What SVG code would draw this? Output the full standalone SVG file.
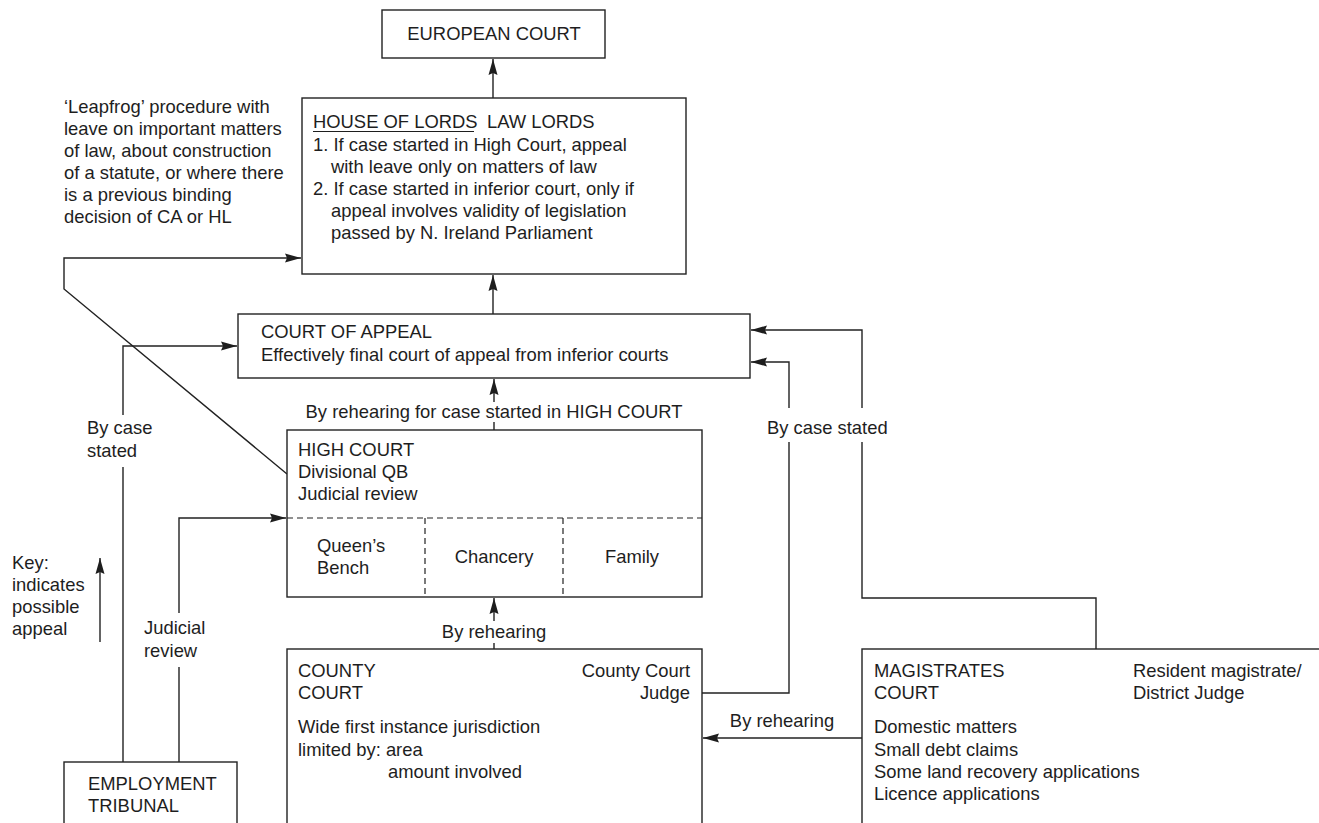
<svg xmlns="http://www.w3.org/2000/svg" width="1319" height="823" viewBox="0 0 1319 823">
<style>
.t{font-family:"Liberation Sans",Arial,sans-serif;font-size:18.4px;fill:#1e1e1e}
.m{text-anchor:middle}
.e{text-anchor:end}
.b{fill:#fff;stroke:#222;stroke-width:1.4}
.c{fill:none;stroke:#222;stroke-width:1.4}
.d{fill:none;stroke:#222;stroke-width:1.2;stroke-dasharray:6 4}
</style>
<defs>
<marker id="ah" markerUnits="userSpaceOnUse" markerWidth="17" markerHeight="10" refX="16" refY="4.5" orient="auto" overflow="visible">
<path d="M0,0 L16,4.5 L0,9 L2,4.5 z" fill="#1e1e1e"/>
</marker>
</defs>
<rect width="1319" height="823" fill="#fff"/>

<g id="connectors">
<path class="c" d="M493,98 V59" marker-end="url(#ah)"/>
<path class="c" d="M493,314 V275" marker-end="url(#ah)"/>
<path class="c" d="M494,430 V422"/>
<path class="c" d="M494,402 V379" marker-end="url(#ah)"/>
<path class="c" d="M494,649 V643"/>
<path class="c" d="M494,621 V598" marker-end="url(#ah)"/>
<path class="c" d="M287,474 L64,289 V258 H301" marker-end="url(#ah)"/>
<path class="c" d="M123,762 V467"/>
<path class="c" d="M123,415 V346 H237" marker-end="url(#ah)"/>
<path class="c" d="M179,762 V667"/>
<path class="c" d="M179,613 V518 H286" marker-end="url(#ah)"/>
<path class="c" d="M702,693 H789 V442"/>
<path class="c" d="M789,408 V362 H751" marker-end="url(#ah)"/>
<path class="c" d="M1096,649 V598 H862 V442"/>
<path class="c" d="M862,408 V330 H751" marker-end="url(#ah)"/>
<path class="c" d="M862,738 H703" marker-end="url(#ah)"/>
<text class="t m" x="494" y="418">By rehearing for case started in HIGH COURT</text>
<text class="t m" x="494" y="638">By rehearing</text>
<text class="t" x="87" y="434">By case</text>
<text class="t" x="87" y="457">stated</text>
<text class="t" x="144" y="634">Judicial</text>
<text class="t" x="144" y="657">review</text>
<text class="t" x="767" y="434">By case stated</text>
<text class="t m" x="782" y="727">By rehearing</text>
</g>

<g id="leapfrog-note">
<text class="t" x="64" y="113">‘Leapfrog’ procedure with</text>
<text class="t" x="64" y="135">leave on important matters</text>
<text class="t" x="64" y="157">of law, about construction</text>
<text class="t" x="64" y="179">of a statute, or where there</text>
<text class="t" x="64" y="201">is a previous binding</text>
<text class="t" x="64" y="223">decision of CA or HL</text>
</g>

<g id="key">
<text class="t" x="12" y="569">Key:</text>
<text class="t" x="12" y="591">indicates</text>
<text class="t" x="12" y="613">possible</text>
<text class="t" x="12" y="635">appeal</text>
<path class="c" d="M100,642 V558" marker-end="url(#ah)"/>
</g>

<g id="european-court">
<rect class="b" x="382" y="10" width="223" height="48"/>
<text class="t m" x="494" y="40">EUROPEAN COURT</text>
</g>

<g id="house-of-lords">
<rect class="b" x="302" y="98" width="384" height="176"/>
<text class="t" x="313" y="128">HOUSE OF LORDS</text>
<line x1="313" y1="131.5" x2="474" y2="131.5" stroke="#1e1e1e" stroke-width="1.2"/>
<text class="t" x="487" y="128">LAW LORDS</text>
<text class="t" x="313" y="151">1. If case started in High Court, appeal</text>
<text class="t" x="331" y="173">with leave only on matters of law</text>
<text class="t" x="313" y="195">2. If case started in inferior court, only if</text>
<text class="t" x="331" y="217">appeal involves validity of legislation</text>
<text class="t" x="331" y="239">passed by N. Ireland Parliament</text>
</g>

<g id="court-of-appeal">
<rect class="b" x="238" y="314" width="512" height="64"/>
<text class="t" x="261" y="338">COURT OF APPEAL</text>
<text class="t" x="261" y="361">Effectively final court of appeal from inferior courts</text>
</g>

<g id="high-court">
<rect class="b" x="287" y="430" width="415" height="167"/>
<path class="d" d="M287,518 H702 M425,518 V597 M563,518 V597"/>
<text class="t" x="298" y="456">HIGH COURT</text>
<text class="t" x="298" y="478">Divisional QB</text>
<text class="t" x="298" y="500">Judicial review</text>
<text class="t" x="317" y="552">Queen’s</text>
<text class="t" x="317" y="574">Bench</text>
<text class="t m" x="494" y="563">Chancery</text>
<text class="t m" x="632" y="563">Family</text>
</g>

<g id="county-court">
<rect class="b" x="287" y="649" width="415" height="200"/>
<text class="t" x="298" y="677">COUNTY</text>
<text class="t" x="298" y="699">COURT</text>
<text class="t e" x="690" y="677">County Court</text>
<text class="t e" x="690" y="699">Judge</text>
<text class="t" x="298" y="733">Wide first instance jurisdiction</text>
<text class="t" x="298" y="756">limited by: area</text>
<text class="t" x="388" y="778">amount involved</text>
</g>

<g id="magistrates-court">
<rect class="b" x="862" y="649" width="500" height="200"/>
<text class="t" x="874" y="677">MAGISTRATES</text>
<text class="t" x="874" y="699">COURT</text>
<text class="t" x="1133" y="677">Resident magistrate/</text>
<text class="t" x="1133" y="699">District Judge</text>
<text class="t" x="874" y="733">Domestic matters</text>
<text class="t" x="874" y="756">Small debt claims</text>
<text class="t" x="874" y="778">Some land recovery applications</text>
<text class="t" x="874" y="800">Licence applications</text>
</g>

<g id="employment-tribunal">
<rect class="b" x="64" y="762" width="173" height="100"/>
<text class="t" x="88" y="790">EMPLOYMENT</text>
<text class="t" x="88" y="812">TRIBUNAL</text>
</g>
</svg>
